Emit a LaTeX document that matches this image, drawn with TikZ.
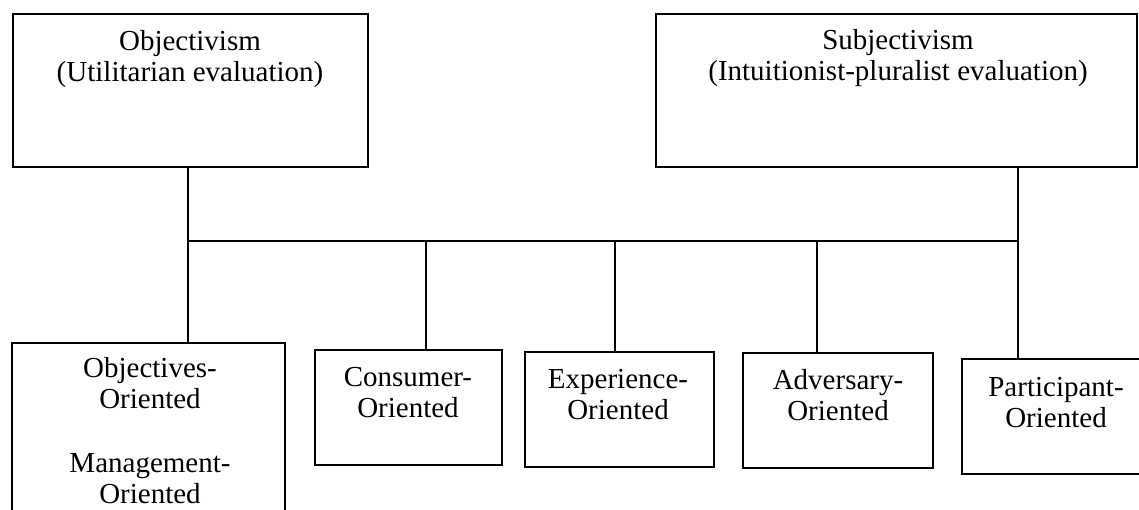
\documentclass[tikz,border=0pt]{standalone}
\usepackage{fontspec}
\setmainfont{Liberation Serif}
\begin{document}
\begin{tikzpicture}[x=1pt,y=-1pt,
  box/.style={draw,line width=2.2pt,rectangle,inner sep=0pt,outer sep=0pt},
  lbl/.style={align=center,inner sep=0pt,font=\fontsize{29}{31}\selectfont},
  conn/.style={line width=2.2pt}]
\useasboundingbox (0,0) rectangle (1139,510);
\clip (0,0) rectangle (1139,510);
% top boxes
\node[box,minimum width=355pt,minimum height=153pt] (objbox) at (190.5,90.5) {};
\node[box,minimum width=481pt,minimum height=153pt] (subjbox) at (896.5,90.5) {};
\node[lbl] (objtxt) at (190,59) {Objectivism\\(Utilitarian evaluation)};
\node[lbl] (subjtxt) at (898,58) {Subjectivism\\(Intuitionist-pluralist evaluation)};
% bottom boxes
\node[box,minimum width=273pt,minimum height=176pt] (objectives) at (148.5,431) {};
\node[box,minimum width=187pt,minimum height=115pt] (consumer) at (408.5,407.5) {};
\node[box,minimum width=189pt,minimum height=115pt] (experience) at (619.5,409.5) {};
\node[box,minimum width=190pt,minimum height=115pt] (adversary) at (838,410.5) {};
\node[box,minimum width=188pt,minimum height=115pt] (participant) at (1056,416.5) {};
\node[lbl] (objectivestxt) at (150,431) {Objectives-\\Oriented\\[33pt]Management-\\Oriented};
\node[lbl] (consumertxt) at (408,393) {Consumer-\\Oriented};
\node[lbl] (experiencetxt) at (618,395) {Experience-\\Oriented};
\node[lbl] (adversarytxt) at (838,395) {Adversary-\\Oriented};
\node[lbl] (participanttxt) at (1056,403) {Participant-\\Oriented};
% connectors
\coordinate (jl) at (188,241);
\coordinate (jr) at (1018,241);
\coordinate (jc) at (426,241);
\coordinate (je) at (615,241);
\coordinate (ja) at (817,241);
\draw[conn] (jl) -- (jr);
\draw[conn] (jl |- objbox.south) -- (jl |- objectives.north);
\draw[conn] (jr |- subjbox.south) -- (jr |- participant.north);
\draw[conn] (jc) -- (jc |- consumer.north);
\draw[conn] (je) -- (je |- experience.north);
\draw[conn] (ja) -- (ja |- adversary.north);
\end{tikzpicture}
\end{document}
